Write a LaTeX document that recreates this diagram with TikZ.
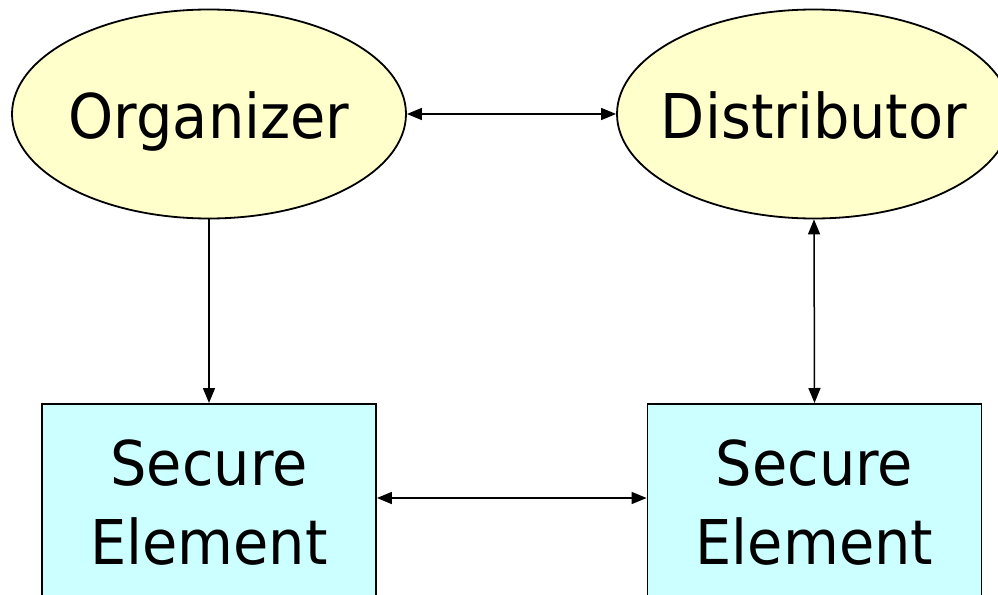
\documentclass[tikz,border=0pt]{standalone}
\usepackage{fontspec}
\setmainfont{DejaVu Sans}[FakeStretch=0.93]
\usepackage{tikz}
\usetikzlibrary{shapes.geometric}
\usetikzlibrary{arrows.meta}
\definecolor{partyfill}{HTML}{FFFFCC}
\definecolor{sefill}{HTML}{CCFFFF}
% testo centrato a larghezza nulla (l'ellisse non si allarga)
\newcommand{\zerobox}[1]{\makebox[0pt][c]{#1}}

\begin{document}
\begin{tikzpicture}[
      x=1pt, y=-1pt,
      lbl/.style={font=\fontsize{61.7}{79}\selectfont},
      party/.style={ellipse, draw, line width=1.8pt, fill=partyfill, lbl,
        minimum width=394pt, minimum height=209pt, inner sep=0pt,
        text height=48pt, text depth=0pt},
      se_box/.style={rectangle, draw, line width=1.8pt, fill=sefill, lbl,
        align=center, minimum width=334pt, inner ysep=36pt, anchor=north},
      link/.style={line width=1.5pt, -{Triangle[length=15pt, width=12pt]}},
      link2/.style={link, {Triangle[length=15pt, width=12pt]}-{Triangle[length=15pt, width=12pt]}}
    ]
    \useasboundingbox (0,0) rectangle (998,594);
    \clip (0,0) rectangle (998,594);

    % Parti
    \node[party] (org) at (209,114) {\zerobox{Organizer}};
    \node[party] (dist) at (814,114) {\zerobox{Distributor}};

    % Secure element
    \node[se_box] (se1) at (209,403) {Secure\\Element};
    \node[se_box] (se2) at (814.5,403) {Secure\\Element};

    % Collegamenti
    \draw[link2] (org.east) -- (dist.west);
    \draw[link] (org.south) -- (se1.north);
    \draw[link2] (dist.south) -- (se2.north);
    \draw[link2] ([yshift=-95pt]se1.north east) -- ([yshift=-95pt]se2.north west);
  \end{tikzpicture}
\end{document}
